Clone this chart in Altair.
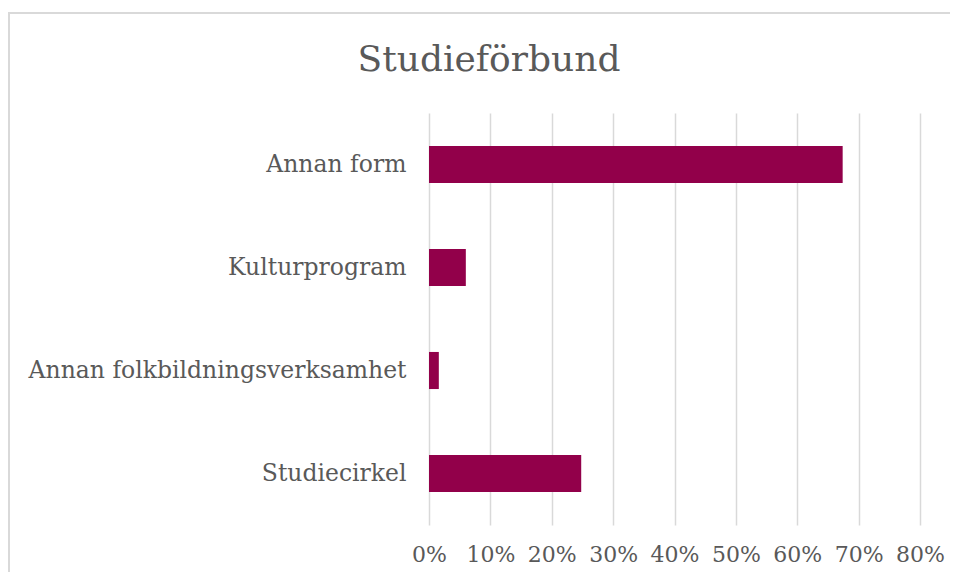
import altair as alt
import pandas as pd

categories = ["Annan form", "Kulturprogram", "Annan folkbildningsverksamhet", "Studiecirkel"]
values = [0.674, 0.060, 0.016, 0.248]
x_ticks = [0, 0.1, 0.2, 0.3, 0.4, 0.5, 0.6, 0.7, 0.8]
title_text = "Studieförbund"

df = pd.DataFrame({"kategori": categories, "andel": values})

FONT = "DejaVu Serif"
GRAY = "#595959"
W, H = 491, 412

bars = alt.Chart(df).mark_bar(color="#92004A").encode(
    x=alt.X("andel:Q",
            scale=alt.Scale(domain=[0, 0.8], nice=False),
            axis=alt.Axis(values=x_ticks, format=".0%", title=None, domain=False, ticks=False,
                          labelPadding=19, labelFontSize=22, labelFont=FONT, labelColor=GRAY,
                          labelOverlap=False, labelFlush=False,
                          grid=True, gridColor="#d9d9d9", gridWidth=1.5)),
    y=alt.Y("kategori:N", sort=categories,
            scale=alt.Scale(paddingInner=0.64, paddingOuter=0.32),
            axis=alt.Axis(title=None, domain=False, ticks=False, labelPadding=23,
                          labelFontSize=23.5, labelFont=FONT, labelColor=GRAY, labelLimit=500)),
)

frame = alt.Chart(df).mark_rect(fill=None, stroke="#d9d9d9", strokeWidth=1.5, clip=False).encode(
    x=alt.value(-420), x2=alt.value(W + 60), y=alt.value(-100), y2=alt.value(H + 100)
)

title = alt.Chart(pd.DataFrame({"t": [title_text]})).mark_text(
    font=FONT, fontSize=36, color=GRAY, align="center", baseline="alphabetic"
).encode(text="t:N", x=alt.value(60), y=alt.value(-42))

chart = alt.layer(frame, bars, title).properties(
    width=W, height=H,
    autosize=alt.AutoSizeParams(type="none"),
    padding={"left": 421, "top": 105, "right": 30, "bottom": 47},
).configure_view(stroke=None)

chart.save("out.html", embed_options={"renderer": "svg", "actions": False})
